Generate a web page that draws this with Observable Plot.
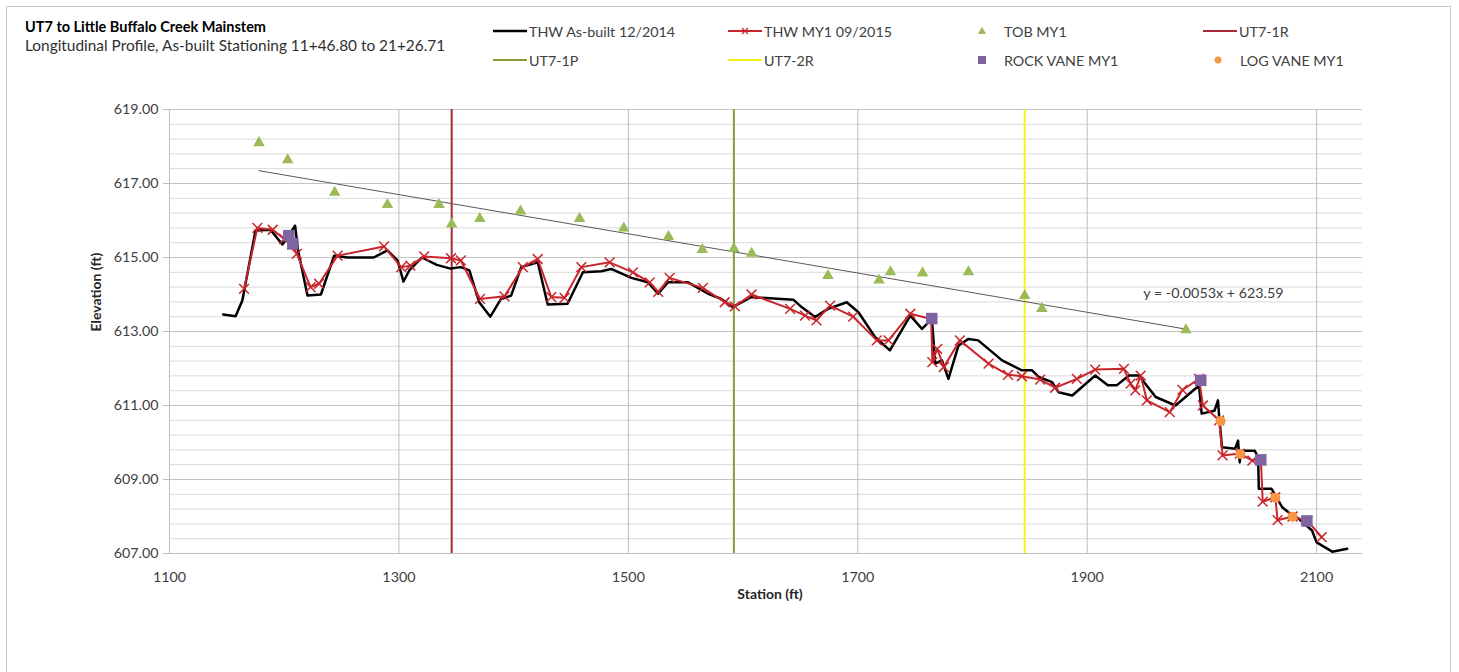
<!DOCTYPE html>
<html>
<head>
<meta charset="utf-8">
<script src="https://cdn.jsdelivr.net/npm/d3@7"></script>
<script src="https://cdn.jsdelivr.net/npm/@observablehq/plot@0.6"></script>
<style>
  body { margin: 0; background: #fff; font-family: Lato, "Open Sans", sans-serif; }
  #wrap { position: relative; width: 1459px; height: 672px; overflow: hidden; }
  #frame { position: absolute; left: 6px; top: 6px; width: 1443px; height: 720px; border: 1px solid #c9c9c9; }
  #chart { position: absolute; left: 0; top: 0; }
  #title { position: absolute; left: 25px; top: 18px; font-size: 14.5px; font-weight: bold; color: #000; }
  #subtitle { position: absolute; left: 25px; top: 36px; font-size: 15.4px; color: #303030; }
  .lg { position: absolute; height: 16px; display: flex; align-items: center; font-size: 14.3px; color: #404040; white-space: nowrap; }
  .lg svg { margin-right: 2px; }
</style>
</head>
<body>
<div id="wrap">
  <div id="frame"></div>
  <div id="chart"></div>
  <div id="title">UT7 to Little Buffalo Creek Mainstem</div>
  <div id="subtitle">Longitudinal Profile, As-built Stationing 11+46.80 to 21+26.71</div>
  <div id="legend"></div>
</div>
<script>
// Thalweg, as-built survey (12/2014): station (ft) and elevation (ft)
const asBuiltStation = [1146.8, 1157.6, 1163.5, 1175, 1188, 1198.4, 1203, 1209.5, 1212, 1220.3, 1232, 1243.5, 1255, 1278, 1290, 1298.8, 1304, 1309, 1320, 1333, 1345, 1354, 1361.4, 1370, 1379.7, 1389, 1397.8, 1406.6, 1421, 1429.7, 1447, 1460.4, 1476.4, 1485, 1502.6, 1517, 1525.9, 1534.7, 1552, 1569.6, 1581, 1591, 1607, 1643.8, 1651, 1662.7, 1674, 1690.4, 1700.6, 1715, 1728, 1745.8, 1756, 1764.6, 1767.5, 1773.4, 1779, 1787.8, 1796.5, 1805, 1825.8, 1843, 1852, 1857.8, 1869.4, 1875, 1887, 1907, 1918, 1926, 1936.4, 1945, 1959.7, 1977, 1997.5, 1999.8, 2011, 2014, 2015, 2017.5, 2029, 2031.5, 2033, 2034, 2046, 2049, 2049.6, 2060.7, 2070, 2076, 2084, 2096, 2100, 2113.6, 2126.7];
const asBuiltElev = [613.46, 613.41, 613.84, 615.73, 615.75, 615.35, 615.55, 615.86, 615.2, 613.97, 614.0, 615.05, 615.0, 615.0, 615.19, 614.92, 614.35, 614.65, 615.0, 614.8, 614.7, 614.74, 614.65, 613.79, 613.4, 613.88, 613.97, 614.74, 614.87, 613.73, 613.75, 614.6, 614.63, 614.69, 614.45, 614.33, 614.02, 614.33, 614.33, 614.02, 613.88, 613.66, 613.93, 613.86, 613.66, 613.39, 613.61, 613.79, 613.52, 612.85, 612.49, 613.43, 613.07, 613.34, 612.13, 612.22, 611.72, 612.62, 612.8, 612.76, 612.22, 611.95, 611.95, 611.77, 611.63, 611.36, 611.27, 611.81, 611.55, 611.55, 611.81, 611.81, 611.23, 611.0, 611.54, 610.78, 610.86, 611.14, 610.73, 609.87, 609.83, 610.05, 609.46, 609.78, 609.78, 609.6, 608.75, 608.75, 608.25, 608.1, 607.95, 607.62, 607.3, 607.05, 607.13];

// Thalweg, monitoring year 1 survey (09/2015)
const my1Station = [1165, 1176.6, 1190, 1200, 1207, 1211, 1223, 1230.4, 1246.5, 1287, 1302, 1310, 1322, 1345.4, 1354, 1370.7, 1392, 1408, 1421, 1432.8, 1444.4, 1459, 1483.7, 1504, 1518.6, 1526, 1536, 1565, 1584, 1592.8, 1607.4, 1641, 1654, 1664, 1675.8, 1696, 1716.6, 1726.8, 1745.8, 1764, 1765, 1769.3, 1775, 1789, 1814, 1831, 1843, 1859, 1872, 1891, 1907, 1932, 1937.8, 1942, 1946.6, 1952, 1972, 1983, 1997.5, 2000.9, 2015, 2018, 2033, 2044, 2051.4, 2053, 2064, 2066, 2079, 2092, 2104.4];
const my1Elev = [614.15, 615.8, 615.75, 615.5, 615.35, 615.1, 614.2, 614.29, 615.05, 615.3, 614.74, 614.78, 615.03, 614.98, 614.92, 613.88, 613.95, 614.74, 614.96, 613.93, 613.91, 614.74, 614.87, 614.6, 614.33, 614.07, 614.45, 614.18, 613.79, 613.68, 614.0, 613.61, 613.43, 613.3, 613.7, 613.4, 612.76, 612.76, 613.48, 613.34, 612.17, 612.53, 612.04, 612.76, 612.13, 611.83, 611.79, 611.7, 611.48, 611.72, 611.97, 611.99, 611.59, 611.41, 611.81, 611.14, 610.82, 611.42, 611.72, 611.0, 610.6, 609.65, 609.7, 609.51, 609.55, 608.4, 608.52, 607.9, 608.0, 607.88, 607.44];

// Top of bank, MY1
const tobStation = [1178, 1203, 1244, 1290, 1335, 1346, 1370.5, 1406, 1457.5, 1496, 1535, 1564.5, 1592, 1607.5, 1674, 1718.5, 1728.5, 1756.5, 1796.5, 1845.5, 1860.5, 1986];
const tobElev = [618.1, 617.64, 616.76, 616.43, 616.43, 615.9, 616.05, 616.25, 616.05, 615.79, 615.56, 615.21, 615.24, 615.11, 614.51, 614.39, 614.61, 614.58, 614.61, 613.97, 613.62, 613.04];

// Rock vanes and log vanes, MY1
const rockStation = [1204, 1207.5, 1764.5, 1999, 2051.3, 2091.5];
const rockElev = [615.59, 615.37, 613.35, 611.68, 609.53, 607.88];
const logStation = [2016.3, 2033.5, 2064, 2079];
const logElev = [610.58, 609.69, 608.51, 607.99];

// Structure stations drawn as vertical reference lines
const structureNames = ["UT7-1R", "UT7-1P", "UT7-2R"];
const structureStations = [1346, 1592, 1845.5];
const structureColors = ["#a8283a", "#8c9a3c", "#f4f21e"];

// Linear trend of top of bank
const trendSlope = -0.0053;
const trendIntercept = 623.59;

// Axis ticks
const yTicks = [607, 609, 611, 613, 615, 617, 619];
const xTicks = [1100, 1300, 1500, 1700, 1900, 2100];

const zip = (xs, ys) => xs.map((x, i) => ({x, y: ys[i]}));
const asBuilt = zip(asBuiltStation, asBuiltElev);
const my1 = zip(my1Station, my1Elev);
const tob = zip(tobStation, tobElev);
const rock = zip(rockStation, rockElev);
const logv = zip(logStation, logElev);
const structures = structureNames.map((name, i) => ({name, x: structureStations[i], color: structureColors[i]}));
const tMin = d3.min(tobStation), tMax = d3.max(tobStation);
const trend = [tMin, tMax].map(x => ({x, y: trendIntercept + trendSlope * x}));
const minorY = d3.range(0, 31).map(i => 607 + i * 0.4);

const colors = {asBuilt: "#000000", my1: "#c8252c", tob: "#9bbb59", rock: "#8064a2", log: "#f79646"};
const font = "Lato, 'Open Sans', sans-serif";

const chart = Plot.plot({
  width: 1459,
  height: 672,
  marginLeft: 169,
  marginRight: 97,
  marginTop: 109,
  marginBottom: 119,
  style: {fontFamily: font, fontSize: "14.3px", color: "#404040", background: "transparent"},
  x: {domain: [1100, 2140]},
  y: {domain: [607, 619]},
  marks: [
    Plot.gridY(minorY, {stroke: "#d9d9d9", strokeOpacity: 1}),
    Plot.gridY(yTicks, {stroke: "#c4c4c4", strokeOpacity: 1}),
    Plot.gridX(xTicks, {stroke: "#bdbdbd", strokeOpacity: 1}),
    Plot.ruleY([607], {stroke: "#bdbdbd"}),
    Plot.axisY(yTicks, {tickFormat: d => d.toFixed(2), tickSize: 6, tickPadding: 5, stroke: "#bdbdbd", label: null, fontSize: 14.3}),
    Plot.axisX(xTicks, {tickFormat: d => String(d), tickSize: 0, tickPadding: 18, label: null, fontSize: 14.3}),
    Plot.text(["Elevation (ft)"], {frameAnchor: "left", dx: -73, rotate: -90, fontWeight: "bold", fill: "#262626", fontSize: 14}),
    Plot.text(["Station (ft)"], {frameAnchor: "bottom", dy: 45, dx: 4, fontWeight: "bold", fill: "#262626", fontSize: 14}),
    Plot.ruleX(structures, {x: "x", stroke: "color", strokeWidth: 2}),
    Plot.line(trend, {x: "x", y: "y", stroke: "#595959", strokeWidth: 1}),
    Plot.text([`y = ${trendSlope.toFixed(4)}x + ${trendIntercept.toFixed(2)}`], {x: 2010, y: 614.03, fill: "#404040", fontSize: 14.3}),
    Plot.dot(tob, {x: "x", y: "y", symbol: "triangle", r: 4.3, fill: colors.tob}),
    Plot.line(asBuilt, {x: "x", y: "y", stroke: colors.asBuilt, strokeWidth: 2.5}),
    Plot.line(my1, {x: "x", y: "y", stroke: colors.my1, strokeWidth: 2}),
    Plot.dot(my1, {x: "x", y: "y", symbol: "times", r: 4.5, stroke: colors.my1, strokeWidth: 1.5}),
    Plot.dot(rock, {x: "x", y: "y", symbol: "square", r: 6.5, fill: colors.rock}),
    Plot.dot(logv, {x: "x", y: "y", symbol: "circle", r: 5, fill: colors.log})
  ]
});
document.getElementById("chart").appendChild(chart);

// Legend
const legendItems = [
  {label: "THW As-built 12/2014", kind: "line", color: colors.asBuilt, w: 2.5, left: 493, top: 23},
  {label: "THW MY1 09/2015", kind: "linex", color: colors.my1, w: 2, left: 728, top: 23},
  {label: "TOB MY1", kind: "triangle", color: colors.tob, left: 976, top: 23},
  {label: "UT7-1R", kind: "line", color: structureColors[0], w: 2, left: 1203, top: 23},
  {label: "UT7-1P", kind: "line", color: structureColors[1], w: 2, left: 493, top: 52},
  {label: "UT7-2R", kind: "line", color: structureColors[2], w: 2, left: 728, top: 52},
  {label: "ROCK VANE MY1", kind: "square", color: colors.rock, left: 976, top: 52},
  {label: "LOG VANE MY1", kind: "circle", color: colors.log, left: 1212, top: 52}
];
const ns = "http://www.w3.org/2000/svg";
const legend = document.getElementById("legend");
for (const it of legendItems) {
  const div = document.createElement("div");
  div.className = "lg";
  div.style.left = it.left + "px";
  div.style.top = it.top + "px";
  const svg = document.createElementNS(ns, "svg");
  let sw;
  if (it.kind === "line" || it.kind === "linex") {
    sw = 34;
    svg.setAttribute("width", sw); svg.setAttribute("height", 16);
    const l = document.createElementNS(ns, "line");
    l.setAttribute("x1", 0); l.setAttribute("x2", sw); l.setAttribute("y1", 8); l.setAttribute("y2", 8);
    l.setAttribute("stroke", it.color); l.setAttribute("stroke-width", it.w);
    svg.appendChild(l);
    if (it.kind === "linex") {
      const p = document.createElementNS(ns, "path");
      p.setAttribute("d", "M14,5L20,11M20,5L14,11");
      p.setAttribute("stroke", it.color); p.setAttribute("stroke-width", 1.2);
      svg.appendChild(p);
    }
  } else {
    sw = 26;
    svg.setAttribute("width", sw); svg.setAttribute("height", 16);
    let el;
    if (it.kind === "triangle") {
      el = document.createElementNS(ns, "path");
      el.setAttribute("d", "M6,3.5L10,11L2,11Z");
    } else if (it.kind === "square") {
      el = document.createElementNS(ns, "rect");
      el.setAttribute("x", 2); el.setAttribute("y", 4); el.setAttribute("width", 8); el.setAttribute("height", 8);
    } else {
      el = document.createElementNS(ns, "circle");
      el.setAttribute("cx", 6); el.setAttribute("cy", 8); el.setAttribute("r", 3.5);
    }
    el.setAttribute("fill", it.color);
    svg.appendChild(el);
  }
  div.appendChild(svg);
  const span = document.createElement("span");
  span.textContent = it.label;
  div.appendChild(span);
  legend.appendChild(div);
}
</script>
</body>
</html>
